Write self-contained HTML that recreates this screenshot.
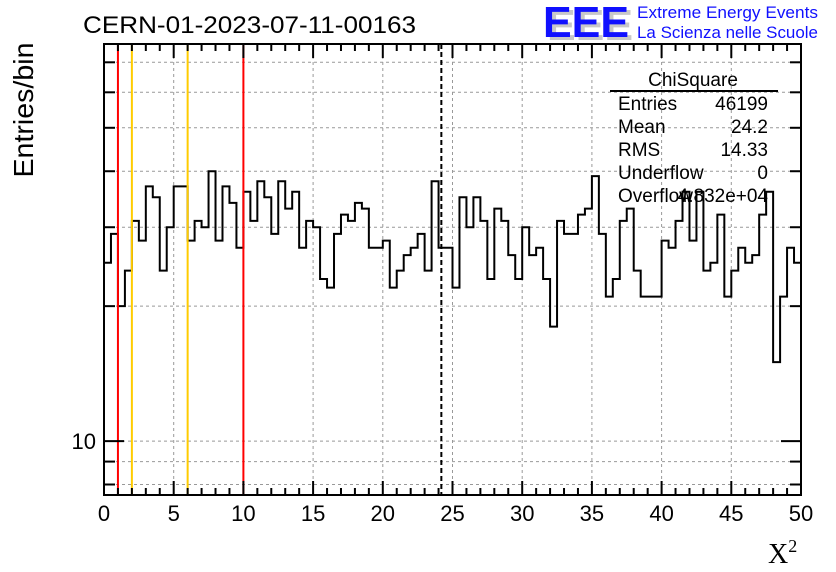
<!DOCTYPE html>
<html><head><meta charset="utf-8"><style>
html,body{margin:0;padding:0;background:#fff;}
svg{display:block;font-family:"Liberation Sans",sans-serif;}
</style></head><body>
<svg id="chart" width="836" height="572" viewBox="0 0 836 572" xmlns="http://www.w3.org/2000/svg">
<rect x="0" y="0" width="836" height="572" fill="#fff"/>
<text x="83" y="33" font-size="24" textLength="333" lengthAdjust="spacingAndGlyphs">CERN-01-2023-07-11-00163</text>
<g>
<text x="547" y="40" font-size="44" font-weight="bold" fill="#c8c8c8" textLength="86" lengthAdjust="spacingAndGlyphs">EEE</text>
<text x="543" y="37" font-size="44" font-weight="bold" fill="#1010ff" textLength="86" lengthAdjust="spacingAndGlyphs">EEE</text>
<text x="637" y="18" font-size="17" fill="#1010ff" textLength="181" lengthAdjust="spacingAndGlyphs">Extreme Energy Events</text>
<text x="637" y="38" font-size="17" fill="#1010ff" textLength="181" lengthAdjust="spacingAndGlyphs">La Scienza nelle Scuole</text>
</g>
<text transform="translate(33,110) rotate(-90)" text-anchor="middle" font-size="28" textLength="135" lengthAdjust="spacingAndGlyphs">Entries/bin</text>
<text x="768" y="563" font-family="Liberation Serif,serif" font-size="28">X<tspan font-size="18" dy="-11">2</tspan></text>
<g id="grid"></g>
<g id="marks"></g>
<g id="axes"></g>
<g font-size="19">
<text x="693" y="86" text-anchor="middle">ChiSquare</text>
<line x1="610" y1="91" x2="778" y2="91" stroke="#000" stroke-width="2"/>
<text x="618" y="110">Entries</text><text x="768" y="110" text-anchor="end">46199</text>
<text x="618" y="133">Mean</text><text x="768" y="133" text-anchor="end">24.2</text>
<text x="618" y="156">RMS</text><text x="768" y="156" text-anchor="end">14.33</text>
<text x="618" y="179">Underflow</text><text x="768" y="179" text-anchor="end">0</text>
<text x="618" y="202">Overflow</text><text x="768" y="202" text-anchor="end">4.832e+04</text>
</g>
</svg>
<script>
const binCounts=[25,29,20,24,31,28,37,35,24,30,37,37,28,31,30,40,28,37,34,27,
36,31,38,35,29,38,33,36,27,31,30,23,22,29,32,31,34,33,27,27,
28,22,24,26,27,29,24,38,27,27,22,35,30,35,31,23,33,31,26,23,
30,26,27,23,18,31,29,29,32,33,39,29,21,23,31,33,24,21,21,21,
28,27,31,36,28,36,24,25,32,21,24,27,25,26,32,36,15,21,27,25];
const xTickLabels=["0","5","10","15","20","25","30","35","40","45","50"];
const yGridValues=[8,9,10,20,30,40,50,60,70];
const yLabelValues=[10];
const redLines=[1,10];
const orangeLines=[2,6];
const meanValue=[24.2];
const xMin=0,xMax=50,yMin=7.58,yMax=76.9;
const L=104,R=801,T=44,B=495;
const NS="http://www.w3.org/2000/svg";
function X(v){return L+(v-xMin)/(xMax-xMin)*(R-L);}
function Y(v){return B-(Math.log10(v)-Math.log10(yMin))/(Math.log10(yMax)-Math.log10(yMin))*(B-T);}
function mk(tag,attrs,parent){const e=document.createElementNS(NS,tag);for(const k in attrs)e.setAttribute(k,attrs[k]);parent.appendChild(e);return e;}
const grid=document.getElementById('grid'),marks=document.getElementById('marks'),axes=document.getElementById('axes');
xTickLabels.forEach(t=>{const v=+t;if(v>xMin&&v<xMax){const l=mk('line',{x1:X(v),x2:X(v),y1:T,y2:B,stroke:'#999','stroke-dasharray':'3,3','stroke-width':1},grid);

}});
yGridValues.forEach(v=>{const l=mk('line',{x1:L,x2:R,y1:Y(v),y2:Y(v),stroke:'#999','stroke-dasharray':'3,3','stroke-width':1},grid);

});
const bw=(xMax-xMin)/binCounts.length;
let d='M'+X(xMin)+','+Y(binCounts[0]);
binCounts.forEach((c,i)=>{const y=Y(c);if(i>0)d+=' L'+X(xMin+i*bw)+','+y;d+=' L'+X(xMin+(i+1)*bw)+','+y;});
const h=mk('path',{d:d,fill:'none',stroke:'#000','stroke-width':2},marks);


redLines.forEach(v=>{const l=mk('line',{x1:X(v),x2:X(v),y1:T,y2:B,stroke:'#ff0000','stroke-width':2},marks);

});
orangeLines.forEach(v=>{const l=mk('line',{x1:X(v),x2:X(v),y1:T,y2:B,stroke:'#ffcc00','stroke-width':2},marks);

});
meanValue.forEach(v=>{const l=mk('line',{x1:X(v),x2:X(v),y1:T,y2:B,stroke:'#000','stroke-width':2,'stroke-dasharray':'5,3'},marks);

});
const f=mk('rect',{x:L,y:T,width:R-L,height:B-T,fill:'none',stroke:'#000','stroke-width':2},axes);


for(let v=xMin;v<=xMax;v+=1){const major=v%5===0;const len=major?14:7;
mk('line',{x1:X(v),x2:X(v),y1:B,y2:B-len,stroke:'#000','stroke-width':2},axes);
mk('line',{x1:X(v),x2:X(v),y1:T,y2:T+len,stroke:'#000','stroke-width':2},axes);}
xTickLabels.forEach(t=>{const e=mk('text',{x:X(+t),y:521,'text-anchor':'middle','font-size':22},axes);e.textContent=t;

});
yGridValues.forEach(v=>{const len=yLabelValues.includes(v)?20:11;
mk('line',{x1:L,x2:L+len,y1:Y(v),y2:Y(v),stroke:'#000','stroke-width':2},axes);
mk('line',{x1:R,x2:R-len,y1:Y(v),y2:Y(v),stroke:'#000','stroke-width':2},axes);});
yLabelValues.forEach(v=>{const e=mk('text',{x:96,y:Y(v)+8,'text-anchor':'end','font-size':22},axes);e.textContent=String(v);

});
</script>
</body></html>
